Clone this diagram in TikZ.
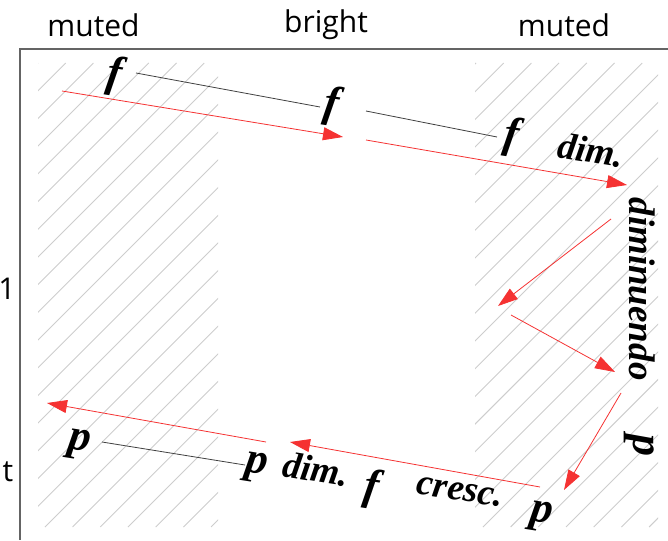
\documentclass[tikz,border=0pt]{standalone}
\usepackage{fontspec}
\setmainfont{Liberation Serif}
\newfontfamily\hdrfont{Open Sans}
\usetikzlibrary{arrows.meta}
\definecolor{redarr}{RGB}{245,50,50}
\definecolor{hatchgray}{RGB}{205,205,205}
\definecolor{framegray}{RGB}{100,100,100}
\begin{document}
\begin{tikzpicture}[x=1pt,y=-1pt,
  hdrtext/.style={font=\hdrfont\fontsize{30}{30}\selectfont, inner sep=0pt},
  dyn/.style={font=\fontsize{37}{37}\selectfont\bfseries\itshape, inner sep=0pt},
  dynletter/.style={font=\fontsize{44}{44}\selectfont\bfseries\itshape, inner sep=0pt},
  tilted/.style={dyn, rotate=-9},
  tiltletter/.style={dynletter, rotate=-9},
  tie/.style={draw=black!75, line width=0.8pt},
  redarrow/.style={draw=redarr, line width=0.8pt, -{Triangle[length=20pt,width=13pt]}},
  hatchline/.style={draw=hatchgray, line width=0.9pt},
  frameline/.style={draw=framegray, line width=1.2pt}]
\useasboundingbox (0,0) rectangle (668,540);
% hatched muted regions
\begin{scope}
  \clip (38,63) rectangle (218,527);
  \foreach \i in {-2,...,24} {
    \pgfmathsetmacro\c{128.7+27.7*\i}
    \draw[hatchline] (\c-527,527) -- (\c-63,63);
  }
\end{scope}
\begin{scope}
  \clip (475,63) rectangle (658,527);
  \foreach \i in {-2,...,24} {
    \pgfmathsetmacro\c{566.7+27.7*\i}
    \draw[hatchline] (\c-527,527) -- (\c-63,63);
  }
\end{scope}
% frame
\coordinate (fbl) at (20,540);
\coordinate (ftl) at (20,49);
\coordinate (ftr) at (668,49);
\draw[frameline] (fbl) -- (ftl) -- (ftr);
% headers
\node[hdrtext] (hm1) at (93.5,25) {muted};
\node[hdrtext] (hb) at (326,25) {bright};
\node[hdrtext] (hm2) at (564,25) {muted};
\node[hdrtext] (y1) at (7,289) {1};
\node[hdrtext] (yt) at (8,472) {t};
% dynamics
\node[tiltletter] (f1) at (114,76) {f};
\node[tiltletter] (f2) at (331,106) {f};
\node[tiltletter] (f3) at (511,137) {f};
\node[tilted] (dimA) at (591,150) {dim.};
\node[dyn, rotate=-90] (dimin) at (642,289) {diminuendo};
\node[dynletter, rotate=-90] (pR) at (639,445) {p};
\node[tiltletter] (pB) at (541,517) {p};
\node[tilted] (cresc) at (460,492) {cresc.};
\node[tiltletter] (fB) at (371,489) {f};
\node[tilted] (dimB) at (316,469) {dim.};
\node[tiltletter] (pM) at (256,468) {p};
\node[tiltletter] (pL) at (79,445) {p};
% ties
\coordinate (t1a) at (136,73);  \coordinate (t1b) at (320,107);
\coordinate (t2a) at (366,111); \coordinate (t2b) at (497,137);
\coordinate (t3a) at (102,442); \coordinate (t3b) at (245,465);
\draw[tie] (t1a) -- (t1b);
\draw[tie] (t2a) -- (t2b);
\draw[tie] (t3a) -- (t3b);
% red arrows
\coordinate (a1s) at (62,91);   \coordinate (a1e) at (343,137);
\coordinate (a2s) at (366,140); \coordinate (a2e) at (627,185);
\coordinate (a3s) at (611,219); \coordinate (a3e) at (498,306);
\coordinate (a4s) at (511,315); \coordinate (a4e) at (615,372);
\coordinate (a5s) at (621,393); \coordinate (a5e) at (564,490);
\coordinate (a6s) at (540,487); \coordinate (a6e) at (290,442);
\coordinate (a7s) at (266,442); \coordinate (a7e) at (47,403);
\draw[redarrow] (a1s) -- (a1e);
\draw[redarrow] (a2s) -- (a2e);
\draw[redarrow] (a3s) -- (a3e);
\draw[redarrow] (a4s) -- (a4e);
\draw[redarrow] (a5s) -- (a5e);
\draw[redarrow] (a6s) -- (a6e);
\draw[redarrow] (a7s) -- (a7e);
\end{tikzpicture}
\end{document}
